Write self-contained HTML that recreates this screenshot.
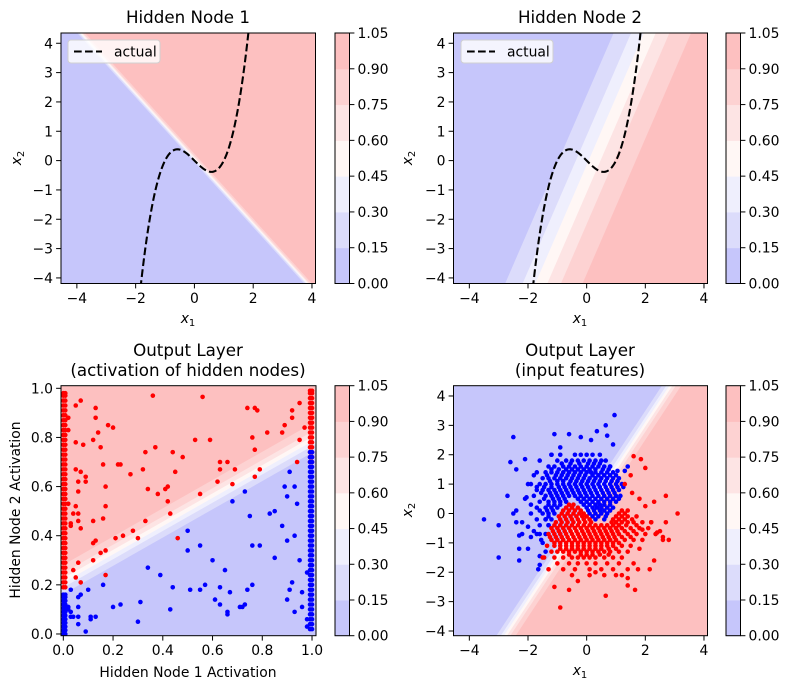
<!DOCTYPE html>
<html><head><meta charset="utf-8">
<style>
html,body{margin:0;padding:0;background:#fff;}
svg{display:block;font-family:"DejaVu Sans","Liberation Sans",sans-serif;}
</style></head>
<body>
<svg id="fig" width="789" height="690" viewBox="0 0 789 690" xmlns="http://www.w3.org/2000/svg"></svg>
<script>
// ---------- data ----------
const levelValues = [0, 0.15, 0.30, 0.45, 0.60, 0.75, 0.90, 1.05];
const levelLabels = ['0.00','0.15','0.30','0.45','0.60','0.75','0.90','1.05'];
const bandColors = ['#c6c6fb','#dcdcfb','#efeffd','#fff7f5','#fde4e4','#fdd2d2','#fdc0c0'];
// linear models: z = sigmoid(k*(w0*x + w1*y + b))
const node1Weights = [1, 0.904, -0.063];
const node1Gain = [15];
const node2Weights = [1, -0.433, -0.2];
const node2Gain = [1.49];
const outHiddenWeights = [-0.575, 1, -0.215];
const outHiddenGain = [33];
const outInputWeights = [1, -0.663, 0.03];
const outInputGain = [6];
// actual boundary: x2 = c3*x1^3 + c1*x1
const cubicCoef = [1, -1];
const xTicksInput = [-4, -2, 0, 2, 4];
const yTicksInput = [-4, -3, -2, -1, 0, 1, 2, 3, 4];
const xTicksAct = [0, 0.2, 0.4, 0.6, 0.8, 1.0];
const yTicksAct = [0, 0.2, 0.4, 0.6, 0.8, 1.0];

// scatter (input features) rows: [y, x, x, ...]
const blueRows = [
 [2.0,-1.2,-0.9,-0.4,-0.2,0.0,0.2,0.45],
 [1.8,-1.6,-1.0,-0.7,-0.5,-0.3,-0.1,0.1,0.3,0.5,0.65],
 [1.6,-1.3,-1.1,-0.8,-0.6,-0.4,-0.2,0.0,0.2,0.4,0.6,0.8],
 [1.4,-1.7,-1.4,-1.2,-1.0,-0.8,-0.6,-0.4,-0.2,0.0,0.15,0.3,0.5,0.7,0.9],
 [1.2,-1.5,-1.3,-1.1,-0.9,-0.7,-0.5,-0.3,-0.1,0.1,0.3,0.5,0.7,0.9,1.1],
 [1.0,-1.9,-1.6,-1.4,-1.2,-1.0,-0.8,-0.6,-0.4,-0.2,0.0,0.2,0.4,0.6,0.8,1.0,1.2],
 [0.8,-1.7,-1.5,-1.3,-1.1,-0.9,-0.7,-0.5,-0.3,-0.1,0.1,0.3,0.5,0.7,0.9,1.1],
 [0.6,-1.8,-1.4,-1.2,-1.0,-0.8,-0.6,-0.4,-0.2,0.0,0.2,0.4,0.6,0.8,1.0,1.15],
 [0.4,-1.6,-1.3,-1.1,-0.9,-0.7,-0.2,0.0,0.2,0.4,0.6,0.8,1.0],
 [0.2,-1.7,-1.4,-1.2,-1.0,0.0,0.2,0.35,0.5,0.7,0.9],
 [0.0,-1.9,-1.5,-1.3,-1.1,0.1,0.3,0.5,0.7],
 [-0.2,-1.7,-1.4,-1.2,0.3,0.6],
 [-0.4,-1.6,-1.3],
 [-0.7,-1.7,-1.4],
 [-0.9,-1.55],
 [1.7,-0.85,-0.55,-0.25,0.05,0.25,0.45],
 [1.5,-1.2,-0.95,-0.7,-0.5,-0.3,-0.1,0.1,0.3,0.55,0.75],
 [1.3,-1.35,-1.05,-0.85,-0.65,-0.45,-0.25,-0.05,0.2,0.4,0.6,0.8,1.0],
 [1.1,-1.25,-1.0,-0.8,-0.55,-0.35,-0.15,0.05,0.25,0.45,0.65,0.85,1.05],
 [0.9,-1.45,-1.2,-0.95,-0.75,-0.55,-0.35,-0.15,0.05,0.25,0.45,0.65,0.85,1.05,1.25],
 [0.7,-1.55,-1.25,-1.05,-0.85,-0.65,-0.45,-0.25,-0.05,0.15,0.35,0.55,0.75,0.95],
 [0.5,-1.45,-1.15,-0.95,-0.75,-0.3,-0.1,0.1,0.3,0.5,0.7,0.9,1.1],
 [0.3,-1.3,-1.1,-0.9,-0.1,0.1,0.3,0.45,0.6,0.8],
 [0.1,-1.6,-1.35,-1.15,0.05,0.25,0.45,0.6,0.8],
 [-0.1,-1.3,0.2,0.4,0.65]
];
const blueExtraX = [-3.5,-3.0,-3.0,-2.7,-2.5,-2.6,-2.4,-2.3,-2.3,-2.3,-2.1,-2.0,-2.05,-2.0,-2.0,-2.4,-1.8,-1.7,-1.6,-1.5,-1.6,-1.6,-1.65,-1.4,-1.1,-1.2,-0.9,-0.6,-0.2,0.15,0.35,0.65,0.7,0.95,0.9,1.05,1.3,1.4,0.8,-2.5,-2.2,-2.1,-2.4,-1.9,-1.8,-1.3,-1.4,-2.2,-1.9];
const blueExtraY = [-0.2,-0.4,-1.5,0.6,2.6,1.75,-0.3,-0.75,-1.2,-1.6,1.85,1.0,0.55,-0.45,-1.2,1.5,1.3,0.9,-0.7,-1.0,-1.45,-1.75,-1.9,-1.3,2.7,2.0,2.25,2.7,2.6,2.5,2.8,3.0,2.65,3.35,2.35,1.45,1.45,1.6,1.6,0.0,-0.3,0.5,0.1,-0.8,-0.6,-0.4,-0.2,-0.7,0.3];
const redRows = [
 [0.3,-0.6,-0.45],
 [0.1,-0.8,-0.6,-0.4,-0.2,1.2,1.4],
 [-0.1,-0.95,-0.75,-0.55,-0.35,-0.15,0.0,1.0,1.2,1.4,1.7],
 [-0.3,-1.05,-0.85,-0.65,-0.45,-0.25,-0.05,0.15,0.85,1.0,1.2,1.4,1.6,1.9,2.2],
 [-0.5,-1.2,-1.0,-0.8,-0.6,-0.4,-0.2,0.0,0.2,0.4,0.6,0.8,1.0,1.2,1.5,1.8,2.1],
 [-0.7,-1.3,-1.1,-0.9,-0.7,-0.5,-0.3,-0.1,0.1,0.3,0.5,0.7,0.9,1.1,1.4,1.7,2.0,2.35],
 [-0.9,-1.2,-1.0,-0.8,-0.6,-0.4,-0.2,0.0,0.2,0.4,0.6,0.8,1.0,1.3,1.6,1.9,2.6],
 [-1.1,-1.35,-1.1,-0.9,-0.7,-0.5,-0.3,-0.1,0.1,0.3,0.5,0.7,0.9,1.2,1.5],
 [-1.3,-1.2,-1.0,-0.8,-0.6,-0.4,-0.2,0.0,0.2,0.4,0.6,0.8,1.1,1.4],
 [-1.5,-1.45,-1.1,-0.8,-0.5,-0.3,-0.1,0.1,0.3,0.6,0.9,1.2],
 [-1.7,-1.0,-0.6,-0.3,0.0,0.3,0.7,1.1,1.6],
 [-1.9,-1.3,-0.8,-0.4,0.1,0.5,0.9,1.4,1.75],
 [-2.1,-0.5,0.1,0.6,1.2],
 [0.2,-0.7,-0.5,-0.3],
 [0.0,-0.85,-0.65,-0.45,-0.25,-0.1,1.1,1.3],
 [-0.2,-0.9,-0.7,-0.5,-0.3,-0.1,0.1,0.9,1.1,1.3,1.55],
 [-0.4,-1.1,-0.9,-0.7,-0.5,-0.3,-0.1,0.1,0.3,0.5,0.7,0.9,1.1,1.35,1.7],
 [-0.6,-1.15,-0.95,-0.75,-0.55,-0.35,-0.15,0.05,0.25,0.45,0.65,0.85,1.05,1.3,1.6],
 [-0.8,-1.25,-1.05,-0.85,-0.65,-0.45,-0.25,-0.05,0.15,0.35,0.55,0.75,0.95,1.2,1.5],
 [-1.0,-1.1,-0.9,-0.7,-0.5,-0.3,-0.1,0.1,0.3,0.5,0.7,0.9,1.1],
 [-1.2,-0.9,-0.7,-0.5,-0.3,-0.1,0.1,0.3,0.5,0.75,1.0],
 [-1.4,-0.6,-0.2,0.0,0.2,0.45,0.75]
];
const redExtraX = [1.6,1.85,2.0,1.5,1.3,1.55,1.8,2.7,3.1,2.3,2.0,2.8,2.6,2.4,2.3,2.15,1.65,1.4,0.65,-0.9,-1.1,-0.6,-1.5,-0.3,0.3,1.8,2.2,1.9,2.5,2.7,1.4,1.0];
const redExtraY = [1.95,1.85,1.55,1.3,1.0,0.7,0.5,0.6,0.0,0.4,0.25,-0.9,-0.8,-0.65,-1.6,-1.9,-2.6,-2.45,-2.8,-3.2,-2.5,-2.6,-1.5,-2.3,-2.0,-1.2,-0.3,-0.55,-0.6,-0.3,-2.2,-2.1];

// hidden-activation scatter
const actRedX = [0.36,0.56,0.74,0.77,0.78,0.92,0.95,0.07,0.05,0.13,0.13,0.14,0.18,0.2,0.12,0.05,0.08,0.15,0.02,0.02,0.53,0.59,0.76,0.77,0.82,0.88,0.89,0.92,0.95,0.97,0.37,0.33,0.44,0.48,0.63,0.66,0.63,0.69,0.79,0.77,0.94,0.62,0.68,0.55,0.45,0.32,0.27,0.23,0.22,0.16,0.09,0.07,0.05,0.17,0.34,0.38,0.41,0.42,0.42,0.17,0.43,0.33,0.28,0.24,0.21,0.30,0.46,0.12,0.16,0.12,0.13,0.15,0.17,0.06,0.12,0.17,0.05,0.07,0.04,0.07,0.04,0.06,0.02,0.06,0.06,0.05,0.09,0.06,0.03,0.03];
const actRedY = [0.97,0.965,0.92,0.92,0.91,0.91,0.94,0.95,0.93,0.92,0.88,0.82,0.85,0.84,0.79,0.78,0.77,0.76,0.83,0.88,0.79,0.79,0.80,0.75,0.82,0.82,0.85,0.88,0.79,0.84,0.76,0.74,0.74,0.72,0.70,0.70,0.67,0.67,0.67,0.64,0.70,0.62,0.61,0.57,0.66,0.67,0.65,0.69,0.69,0.69,0.64,0.66,0.67,0.60,0.59,0.57,0.59,0.60,0.54,0.52,0.49,0.46,0.42,0.40,0.39,0.39,0.39,0.46,0.47,0.37,0.38,0.33,0.34,0.29,0.30,0.24,0.23,0.21,0.26,0.43,0.49,0.49,0.53,0.58,0.62,0.52,0.62,0.46,0.45,0.44];
const actBlueX = [0.5,0.5,0.55,0.6,0.34,0.39,0.65,0.68,0.73,0.75,0.76,0.79,0.83,0.85,0.89,0.90,0.91,0.88,0.90,0.93,0.94,0.93,0.85,0.92,0.91,0.90,0.93,0.96,0.96,0.95,0.98,0.98,0.98,0.51,0.55,0.57,0.63,0.61,0.63,0.66,0.66,0.67,0.71,0.72,0.73,0.74,0.76,0.44,0.43,0.30,0.31,0.23,0.20,0.16,0.10,0.11,0.11,0.13,0.09,0.06,0.07,0.06,0.06,0.06,0.04,0.03,0.02,0.03,0.02,0.03];
const actBlueY = [0.42,0.34,0.36,0.30,0.27,0.24,0.26,0.54,0.58,0.48,0.36,0.36,0.49,0.50,0.60,0.56,0.66,0.44,0.38,0.40,0.53,0.60,0.31,0.21,0.18,0.14,0.09,0.11,0.17,0.30,0.25,0.06,0.03,0.18,0.18,0.20,0.19,0.14,0.12,0.09,0.08,0.17,0.11,0.11,0.12,0.18,0.20,0.19,0.10,0.05,0.13,0.12,0.11,0.20,0.18,0.07,0.06,0.07,0.01,0.11,0.16,0.15,0.07,0.04,0.07,0.07,0.11,0.18,0.10,0.09];
const colLeftX = [0.0, 0.008];
const colRightX = [0.992, 1.0];
const colRedLeftY = [0.19,0.21,0.23,0.25,0.27,0.29,0.31,0.33,0.35,0.37,0.39,0.41,0.43,0.45,0.47,0.49,0.51,0.53,0.55,0.57,0.59,0.61,0.63,0.65,0.67,0.69,0.71,0.73,0.75,0.77,0.79,0.81,0.83,0.85,0.87,0.89,0.91,0.93,0.95,0.97,0.98];
const colBlueLeftY = [0.0,0.015,0.03,0.045,0.06,0.075,0.09,0.105,0.12,0.135,0.15,0.16];
const colRedRightY = [0.70,0.72,0.74,0.76,0.78,0.80,0.82,0.84,0.86,0.88,0.90,0.92,0.94,0.96,0.98,0.99];
const colBlueRightY = [0.02,0.04,0.06,0.08,0.10,0.12,0.14,0.16,0.18,0.20,0.22,0.24,0.26,0.28,0.30,0.32,0.34,0.36,0.38,0.40,0.42,0.44,0.46,0.48,0.50,0.52,0.54,0.56,0.58,0.60,0.62,0.64,0.66,0.68,0.70,0.72,0.74];

// ---------- drawing ----------
const NS = 'http://www.w3.org/2000/svg';
const svg = document.getElementById('fig');
function mk(tag, attrs, parent){
  const e = document.createElementNS(NS, tag);
  for (const k in attrs) e.setAttribute(k, attrs[k]);
  (parent||svg).appendChild(e);
  return e;
}
function txt(s, x, y, size, anchor, parent, name, extra){
  const t = mk('text', Object.assign({x:x, y:y, 'font-size':size, 'text-anchor':anchor||'middle', fill:'#000'}, extra||{}), parent);
  t.textContent = s;
  
  
  return t;
}
function logit(p){ return Math.log(p/(1-p)); }

function makePanel(id, L, R, T, B, xmin, xmax, ymin, ymax){
  const g = mk('g', {});
  
  
  const sx = v => L + (v - xmin) / (xmax - xmin) * (R - L);
  const sy = v => B - (v - ymin) / (ymax - ymin) * (B - T);
  const cp = mk('clipPath', {id: id + '-clip'}, g);
  mk('rect', {x:L, y:T, width:R-L, height:B-T}, cp);
  const plot = mk('g', {'clip-path': 'url(#' + id + '-clip)'}, g);
  return {g, plot, sx, sy, L, R, T, B, xmin, xmax, ymin, ymax};
}

function clipHalf(poly, w, thr){
  const f = p => w[0]*p[0] + w[1]*p[1] + w[2] - thr;
  const out = [];
  for (let i = 0; i < poly.length; i++){
    const a = poly[i], b = poly[(i+1) % poly.length];
    const fa = f(a), fb = f(b);
    if (fa >= 0) out.push(a);
    if ((fa >= 0) !== (fb >= 0)){
      const t = fa / (fa - fb);
      out.push([a[0] + t*(b[0]-a[0]), a[1] + t*(b[1]-a[1])]);
    }
  }
  return out;
}

function drawContour(P, w, gain){
  const rect = [[P.xmin,P.ymin],[P.xmax,P.ymin],[P.xmax,P.ymax],[P.xmin,P.ymax]];
  const base = mk('polygon', {points: rect.map(p => P.sx(p[0])+','+P.sy(p[1])).join(' '), fill: bandColors[0]}, P.plot);
  
  
  for (let i = 1; i < bandColors.length; i++){
    const thr = logit(levelValues[i]) / gain;
    const poly = clipHalf(rect, w, thr);
    if (poly.length < 3) continue;
    const pg = mk('polygon', {points: poly.map(p => P.sx(p[0]).toFixed(2)+','+P.sy(p[1]).toFixed(2)).join(' '), fill: bandColors[i]}, P.plot);
    
    
  }
}

function drawAxes(P, xt, yt, xfmt, yfmt){
  const fr = mk('rect', {x:P.L, y:P.T, width:P.R-P.L, height:P.B-P.T, fill:'none', stroke:'#000', 'stroke-width':1}, P.g);
  
  
  xt.forEach(v => {
    const x = P.sx(v);
    mk('line', {x1:x, y1:P.B, x2:x, y2:P.B+4.9, stroke:'#000', 'stroke-width':1}, P.g);
    txt(xfmt(v), x, P.B + 19.5, 13.9, 'middle', P.g, 'x-tick-label');
  });
  yt.forEach(v => {
    const y = P.sy(v);
    mk('line', {x1:P.L-4.9, y1:y, x2:P.L, y2:y, stroke:'#000', 'stroke-width':1}, P.g);
    txt(yfmt(v), P.L - 8, y + 5, 13.9, 'end', P.g, 'y-tick-label');
  });
}
const fmtInt = v => (v < 0 ? '\u2212' + Math.abs(v) : String(v));
const fmt1 = v => v.toFixed(1);

function drawColorbar(x, T, B){
  const g = mk('g', {});
  
  
  const w = 14.5, n = bandColors.length, h = (B - T) / n;
  for (let i = 0; i < n; i++){
    const r = mk('rect', {x:x, y:B - (i+1)*h, width:w, height:h + 0.5, fill:bandColors[i]}, g);
    
    
  }
  mk('rect', {x:x, y:T, width:w, height:B-T, fill:'none', stroke:'#000', 'stroke-width':1}, g);
  levelLabels.forEach((s, i) => {
    const y = B - i*h;
    mk('line', {x1:x+w, y1:y, x2:x+w+4.9, y2:y, stroke:'#000', 'stroke-width':1}, g);
    txt(s, x + w + 8, y + 5, 13.9, 'start', g, 'colorbar-tick-label');
  });
}

function drawCubic(P){
  const pts = [];
  for (let x = -2.2; x <= 2.2001; x += 0.01){
    const y = cubicCoef[0]*x*x*x + cubicCoef[1]*x;
    pts.push(P.sx(x).toFixed(2) + ',' + P.sy(y).toFixed(2));
  }
  const pl = mk('polyline', {points: pts.join(' '), fill:'none', stroke:'#000', 'stroke-width':2.08, 'stroke-dasharray':'7.7,3.3'}, P.plot);
  
  
}

function drawLegend(x, y){
  const g = mk('g', {});
  
  
  mk('rect', {x:x, y:y, width:92, height:23, rx:3, fill:'rgba(255,255,255,0.8)', stroke:'#d0d0d0', 'stroke-width':1}, g);
  mk('line', {x1:x+6, y1:y+11.5, x2:x+34, y2:y+11.5, stroke:'#000', 'stroke-width':2.08, 'stroke-dasharray':'7.7,3.3'}, g);
  txt('actual', x + 46, y + 16.5, 13.9, 'start', g, 'legend-label');
}

function dot(P, x, y, color){
  const c = mk('circle', {cx:P.sx(x).toFixed(2), cy:P.sy(y).toFixed(2), r:2.3, fill:color}, P.plot);
  
  
}

// Panel 1
const P1 = makePanel('panel-hidden-node-1', 61, 315.5, 33, 283.5, -4.54, 4.12, -4.19, 4.35);
drawContour(P1, node1Weights, node1Gain[0]);
drawCubic(P1);
drawAxes(P1, xTicksInput, yTicksInput, fmtInt, fmtInt);
drawLegend(68, 40);
txt('Hidden Node 1', 188, 23, 16.7, 'middle', svg, 'title-hidden-node-1');
txt('x', 188, 323, 13.9, 'middle', svg, 'x-axis-title', {'font-style':'italic'}).innerHTML = 'x<tspan font-size="10" dy="3" font-style="normal">1</tspan>';
txt('x', 0, 0, 13.9, 'middle', svg, 'y-axis-title', {'font-style':'italic', transform:'translate(21,158) rotate(-90)'}).innerHTML = 'x<tspan font-size="10" dy="3" font-style="normal">2</tspan>';
drawColorbar(335, 33, 283.5);

// Panel 2
const P2 = makePanel('panel-hidden-node-2', 453.5, 707.5, 33, 283.5, -4.54, 4.12, -4.19, 4.35);
drawContour(P2, node2Weights, node2Gain[0]);
drawCubic(P2);
drawAxes(P2, xTicksInput, yTicksInput, fmtInt, fmtInt);
drawLegend(461, 40);
txt('Hidden Node 2', 580, 23, 16.7, 'middle', svg, 'title-hidden-node-2');
txt('x', 580, 323, 13.9, 'middle', svg, 'x-axis-title', {'font-style':'italic'}).innerHTML = 'x<tspan font-size="10" dy="3" font-style="normal">1</tspan>';
txt('x', 0, 0, 13.9, 'middle', svg, 'y-axis-title', {'font-style':'italic', transform:'translate(412,158) rotate(-90)'}).innerHTML = 'x<tspan font-size="10" dy="3" font-style="normal">2</tspan>';
drawColorbar(726, 33, 283.5);

// Panel 3
const P3 = makePanel('panel-output-hidden', 61, 316, 385.7, 635.7, -0.0093, 1.016, -0.007, 1.0106);
drawContour(P3, outHiddenWeights, outHiddenGain[0]);
actRedX.forEach((x, i) => dot(P3, x, actRedY[i], '#ff0000'));
colLeftX.forEach(x => colRedLeftY.forEach(y => dot(P3, x, y, '#ff0000')));
colRightX.forEach(x => colRedRightY.forEach(y => dot(P3, x, y, '#ff0000')));
actBlueX.forEach((x, i) => dot(P3, x, actBlueY[i], '#0000ff'));
colLeftX.forEach(x => colBlueLeftY.forEach(y => dot(P3, x, y, '#0000ff')));
colRightX.forEach(x => colBlueRightY.forEach(y => dot(P3, x, y, '#0000ff')));
drawAxes(P3, xTicksAct, yTicksAct, fmt1, fmt1);
txt('Output Layer', 188, 356, 16.7, 'middle', svg, 'title-output-hidden-line1');
txt('(activation of hidden nodes)', 188, 376, 16.7, 'middle', svg, 'title-output-hidden-line2');
txt('Hidden Node 1 Activation', 188, 677, 13.9, 'middle', svg, 'x-axis-title');
txt('Hidden Node 2 Activation', 0, 0, 13.9, 'middle', svg, 'y-axis-title', {transform:'translate(20,510) rotate(-90)'});
drawColorbar(335, 385.7, 635.7);

// Panel 4
const P4 = makePanel('panel-output-input', 453.5, 707.5, 385.7, 635.7, -4.54, 4.12, -4.16, 4.35);
drawContour(P4, outInputWeights, outInputGain[0]);
blueRows.forEach(r => r.slice(1).forEach(x => dot(P4, x, r[0], '#0000ff')));
blueExtraX.forEach((x, i) => dot(P4, x, blueExtraY[i], '#0000ff'));
redRows.forEach(r => r.slice(1).forEach(x => dot(P4, x, r[0], '#ff0000')));
redExtraX.forEach((x, i) => dot(P4, x, redExtraY[i], '#ff0000'));
drawAxes(P4, xTicksInput, yTicksInput, fmtInt, fmtInt);
txt('Output Layer', 580, 356, 16.7, 'middle', svg, 'title-output-input-line1');
txt('(input features)', 580, 376, 16.7, 'middle', svg, 'title-output-input-line2');
txt('x', 580, 675, 13.9, 'middle', svg, 'x-axis-title', {'font-style':'italic'}).innerHTML = 'x<tspan font-size="10" dy="3" font-style="normal">1</tspan>';
txt('x', 0, 0, 13.9, 'middle', svg, 'y-axis-title', {'font-style':'italic', transform:'translate(412,510) rotate(-90)'}).innerHTML = 'x<tspan font-size="10" dy="3" font-style="normal">2</tspan>';
drawColorbar(726, 385.7, 635.7);
</script>
</body></html>
